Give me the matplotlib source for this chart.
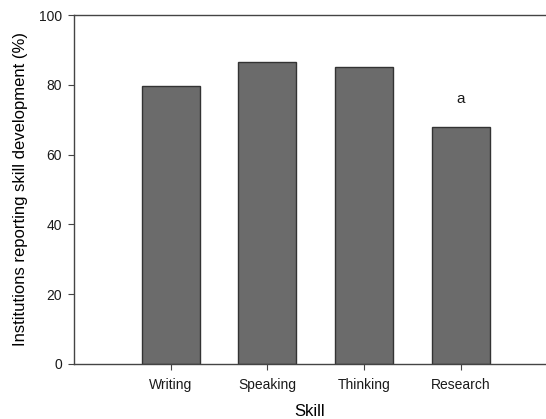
import matplotlib
matplotlib.use("Agg")
import matplotlib.pyplot as plt

skills = ["Writing", "Speaking", "Thinking", "Research"]
percent = [79.7, 86.5, 85.2, 68.0]
annotations = ["", "", "", "a"]

plt.rcParams["font.family"] = ["Liberation Sans", "DejaVu Sans"]
plt.rcParams["text.color"] = "#1a1a1a"
plt.rcParams["xtick.labelcolor"] = "#1a1a1a"
plt.rcParams["ytick.labelcolor"] = "#1a1a1a"

fig = plt.figure(figsize=(5.46, 4.19), dpi=100)
ax = fig.add_axes([0.1355, 0.1313, 0.8645, 0.8329])

pos = list(range(1, len(skills) + 1))
ax.bar(pos, percent, width=0.6, color="#6b6b6b", edgecolor="#333333", linewidth=1.0)
for x, v, t in zip(pos, percent, annotations):
    if t:
        ax.text(x, v + 8, t, ha="center", va="center", fontsize=11)

ax.set_xlim(0, 4.88)
ax.set_ylim(0, 100)
ax.set_xticks(pos)
ax.set_xticklabels(skills, fontsize=10)
ax.set_yticks([0, 20, 40, 60, 80, 100])
ax.tick_params(axis="y", labelsize=10, direction="out", length=4, color="#444444", pad=4.5)
ax.tick_params(axis="x", direction="out", length=4, color="#444444", pad=6)
ax.spines["right"].set_visible(False)
for s in ("left", "bottom", "top"):
    ax.spines[s].set_color("#444444")
    ax.spines[s].set_linewidth(1.0)

ax.set_xlabel("Skill", fontsize=12, labelpad=9)
ax.set_ylabel("Institutions reporting skill development (%)", fontsize=12, labelpad=8)

fig.savefig("out.png", dpi=100)
